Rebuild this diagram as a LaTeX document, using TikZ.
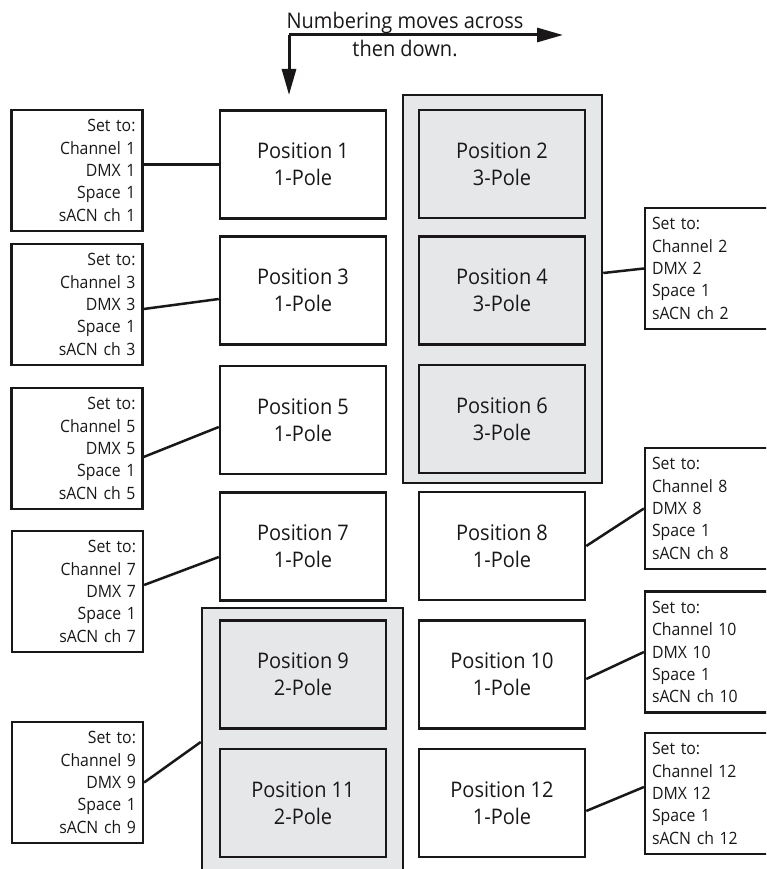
\documentclass[tikz,border=0pt]{standalone}
\usepackage{fontspec}
\setmainfont{Open Sans}[FakeStretch=0.93]
\usetikzlibrary{arrows.meta}
\definecolor{ink}{HTML}{1A1718}
\definecolor{panel}{HTML}{E6E7E8}
\tikzset{
  posbox/.style={draw=ink,line width=2.5pt,minimum width=166pt,minimum height=108pt,inner sep=0pt,
    align=center,text=ink,font=\fontsize{21.5}{27}\selectfont},
  polebox/.style={posbox,fill=panel},
  grp/.style={draw=ink,line width=2.5pt,fill=panel,inner sep=0pt},
  setl/.style={draw=ink,line width=2.2pt,minimum width=131pt,minimum height=121pt,inner sep=7pt,
    text width=117pt,align=right,text=ink,font=\fontsize{17}{22.3}\selectfont},
  setr/.style={setl,align=left},
  wire/.style={draw=ink,line width=2.5pt}
}
\begin{document}
\begin{tikzpicture}[x=1pt,y=-1pt,>={Triangle[length=26pt,width=14pt]}]
\useasboundingbox (0,0) rectangle (766,869);
\clip (0,0) rectangle (766,869);
% heading and the two arrows
\node[text=ink,align=center,font=\fontsize{21.5}{28}\selectfont] (note) at (405,34) {Numbering moves across\\then down.};
\coordinate (turn) at (289,35);
\coordinate (across) at (563,35);
\coordinate (down) at (289,95);
\draw[->,draw=ink,fill=ink,line width=3pt] (turn) -- (across);
\draw[->,draw=ink,fill=ink,line width=3pt] (turn) -- (down);
% grey groups
\node[grp,minimum width=199pt,minimum height=388pt] (g1) at (502.5,289) {};
\node[grp,minimum width=201pt,minimum height=300pt] (g2) at (302.5,758) {};
% positions
\node[posbox] (p1) at (303,164.5) {Position 1\\1-Pole};
\node[polebox] (p2) at (502,164) {Position 2\\3-Pole};
\node[posbox] (p3) at (303,290.5) {Position 3\\1-Pole};
\node[polebox] (p4) at (502,290.5) {Position 4\\3-Pole};
\node[posbox] (p5) at (303,420) {Position 5\\1-Pole};
\node[polebox] (p6) at (502,419) {Position 6\\3-Pole};
\node[posbox] (p7) at (303,546.5) {Position 7\\1-Pole};
\node[posbox] (p8) at (502,546) {Position 8\\1-Pole};
\node[polebox] (p9) at (303,674.5) {Position 9\\2-Pole};
\node[posbox] (p10) at (502,674.5) {Position 10\\1-Pole};
\node[polebox] (p11) at (303,803) {Position 11\\2-Pole};
\node[posbox] (p12) at (502,803) {Position 12\\1-Pole};
% settings, left side
\node[setl] (s1) at (77,170.5) {Set to:\\Channel 1\\DMX 1\\Space 1\\sACN ch 1};
\node[setl] (s3) at (77,304.5) {Set to:\\Channel 3\\DMX 3\\Space 1\\sACN ch 3};
\node[setl] (s5) at (77,448.5) {Set to:\\Channel 5\\DMX 5\\Space 1\\sACN ch 5};
\node[setl] (s7) at (77.5,591.5) {Set to:\\Channel 7\\DMX 7\\Space 1\\sACN ch 7};
\node[setl] (s9) at (77.5,782.5) {Set to:\\Channel 9\\DMX 9\\Space 1\\sACN ch 9};
% settings, right side
\node[setr] (s2) at (710.5,268.5) {Set to:\\Channel 2\\DMX 2\\Space 1\\sACN ch 2};
\node[setr] (s8) at (710.5,508.5) {Set to:\\Channel 8\\DMX 8\\Space 1\\sACN ch 8};
\node[setr] (s10) at (710.5,652) {Set to:\\Channel 10\\DMX 10\\Space 1\\sACN ch 10};
\node[setr] (s12) at (710.5,793.5) {Set to:\\Channel 12\\DMX 12\\Space 1\\sACN ch 12};
% links
\draw[wire] (p1.west) -- (p1.west -| s1.east);
\draw[wire] ([yshift=-4.5pt]s3.east) -- ([yshift=-8.5pt]p3.west);
\draw[wire] ([yshift=-8.5pt]s5.east) -- ([yshift=-7pt]p5.west);
\draw[wire] ([yshift=6.5pt]s7.east) -- ([yshift=-10.5pt]p7.west);
\draw[wire] (s9.east) -- ([yshift=16pt]g2.west);
\draw[wire] ([yshift=16pt]g1.east) -- (s2.west);
\draw[wire] (p8.east) -- (s8.west);
\draw[wire] ([yshift=-4.5pt]p10.east) -- (s10.west);
\draw[wire] ([yshift=-8pt]p12.east) -- ([yshift=6.5pt]s12.west);
\end{tikzpicture}
\end{document}
